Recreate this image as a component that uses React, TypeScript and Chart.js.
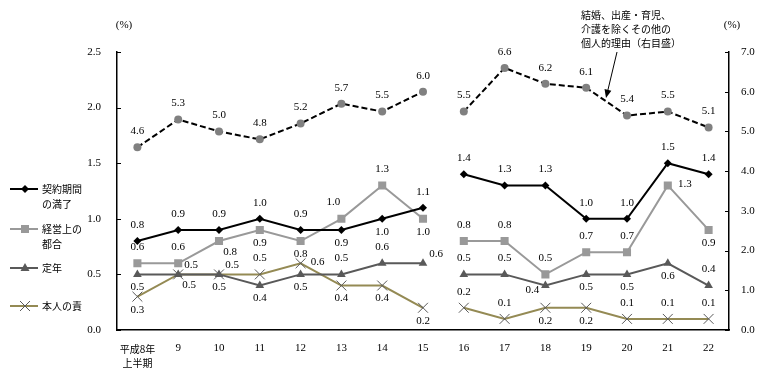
import React, { useEffect, useRef } from 'react';
import { Chart, registerables } from 'chart.js';
Chart.register(...registerables);

const categories: (string | string[])[] = [['平成8年', '上半期'], '9', '10', '11', '12', '13', '14', '15', '16', '17', '18', '19', '20', '21', '22'];
const contractEnd = [0.8, 0.9, 0.9, 1.0, 0.9, 0.9, 1.0, 1.1, 1.4, 1.3, 1.3, 1.0, 1.0, 1.5, 1.4];
const businessReasons = [0.6, 0.6, 0.8, 0.9, 0.8, 1.0, 1.3, 1.0, 0.8, 0.8, 0.5, 0.7, 0.7, 1.3, 0.9];
const retirement = [0.5, 0.5, 0.5, 0.4, 0.5, 0.5, 0.6, 0.6, 0.5, 0.5, 0.4, 0.5, 0.5, 0.6, 0.4];
const personalFault = [0.3, 0.5, 0.5, 0.5, 0.6, 0.4, 0.4, 0.2, 0.2, 0.1, 0.2, 0.2, 0.1, 0.1, 0.1];
const otherPersonal = [4.6, 5.3, 5.0, 4.8, 5.2, 5.7, 5.5, 6.0, 5.5, 6.6, 6.2, 6.1, 5.4, 5.5, 5.1];

const leftTicks = [0, 0.5, 1.0, 1.5, 2.0, 2.5];
const rightTicks = [0, 1, 2, 3, 4, 5, 6, 7];

// label placement codes (t=top, b=bottom, r=right, ...)
const posContract = ['t', 't', 't', 't', 't', 'b', 'b', 't', 't', 't', 't', 't', 't', 't', 't'];
const posBusiness = ['t', 't', 'br', 'b', 'b', 'tl', 't', 'b', 't', 't', 't', 't', 't', 'r', 'b'];
const posRetire = ['b', 'tr', 'tr', 'b', 'b', 't', 't', 'tr', 't', 't', 'bl', 'b', 'b', 'b', 't'];
const posFault = ['b', 'br', 'b', 't', 'r', 'b', 'b', 'b', 't', 't', 'b', 'b', 't', 't', 't'];
const posOther = ['t', 't', 't', 't', 't', 't', 't', 't', 't', 't', 't', 't', 't', 't', 't'];

const SERIF = "'Liberation Serif', 'Times New Roman', serif";
const JP = "'Noto Sans CJK JP', 'Noto Sans', sans-serif";

const OFFSETS: Record<string, [number, number]> = {
  t: [0, -16], b: [0, 13], r: [17, -1], tr: [13, -9], br: [11, 11], tl: [-8, -17], bl: [-13, 5],
};

const BREAK_AFTER = 7;
const gapSeg = { borderColor: (c: any) => (c.p0DataIndex === BREAK_AFTER ? 'rgba(0,0,0,0)' : undefined) };

function marker(ctx: CanvasRenderingContext2D, kind: string, x: number, y: number) {
  ctx.save();
  if (kind === 'diamond') {
    ctx.fillStyle = '#000';
    ctx.beginPath(); ctx.moveTo(x, y - 4); ctx.lineTo(x + 4, y); ctx.lineTo(x, y + 4); ctx.lineTo(x - 4, y); ctx.closePath(); ctx.fill();
  } else if (kind === 'square') {
    ctx.fillStyle = '#999999'; ctx.fillRect(x - 4, y - 4, 8, 8);
  } else if (kind === 'triangle') {
    ctx.fillStyle = '#595959';
    ctx.beginPath(); ctx.moveTo(x, y - 5); ctx.lineTo(x + 4.5, y + 3); ctx.lineTo(x - 4.5, y + 3); ctx.closePath(); ctx.fill();
  } else if (kind === 'cross') {
    ctx.strokeStyle = '#595959'; ctx.lineWidth = 1;
    ctx.beginPath(); ctx.moveTo(x - 5, y - 5); ctx.lineTo(x + 5, y + 5); ctx.moveTo(x + 5, y - 5); ctx.lineTo(x - 5, y + 5); ctx.stroke();
  }
  ctx.restore();
}

const overlay = {
  id: 'overlay',
  afterDatasetsDraw(chart: any) {
    const ctx: CanvasRenderingContext2D = chart.ctx;
    ctx.save();
    // data labels
    ctx.font = `11px ${SERIF}`;
    ctx.fillStyle = '#000';
    ctx.textAlign = 'center';
    ctx.textBaseline = 'middle';
    chart.data.datasets.forEach((ds: any, di: number) => {
      const meta = chart.getDatasetMeta(di);
      meta.data.forEach((pt: any, i: number) => {
        const v = ds.data[i];
        if (v == null) return;
        const [dx, dy] = OFFSETS[ds.labelPos[i]];
        ctx.fillText(v.toFixed(1), pt.x + dx, pt.y + dy);
      });
    });

    // inward ticks
    const { left, right } = chart.chartArea;
    const sy = chart.scales.y, sy1 = chart.scales.y1;
    ctx.strokeStyle = '#000';
    ctx.lineWidth = 1;
    leftTicks.forEach((v) => {
      const py = Math.round(sy.getPixelForValue(v)) + 0.5;
      ctx.beginPath(); ctx.moveTo(left, py); ctx.lineTo(left + 4, py); ctx.stroke();
    });
    rightTicks.forEach((v) => {
      const py = Math.round(sy1.getPixelForValue(v)) + 0.5;
      ctx.beginPath(); ctx.moveTo(right, py); ctx.lineTo(right - 4, py); ctx.stroke();
    });

    // unit labels
    ctx.font = `11px ${SERIF}`;
    ctx.textAlign = 'center';
    ctx.fillText('(%)', 124, 25);
    ctx.fillText('(%)', 732, 25);

    // annotation
    ctx.font = `10px ${JP}`;
    ctx.textAlign = 'left';
    ctx.fillText('結婚、出産・育児、', 581, 15);
    ctx.fillText('介護を除くその他の', 581, 29);
    ctx.fillText('個人的理由（右目盛）', 581, 43);
    // arrow
    const x0 = 617, y0 = 52, x1 = 606, y1 = 98;
    const ang = Math.atan2(y1 - y0, x1 - x0);
    ctx.beginPath(); ctx.moveTo(x0, y0); ctx.lineTo(x1 - Math.cos(ang) * 6, y1 - Math.sin(ang) * 6); ctx.stroke();
    ctx.fillStyle = '#000';
    ctx.beginPath();
    ctx.moveTo(x1, y1);
    ctx.lineTo(x1 - Math.cos(ang - 0.4) * 9, y1 - Math.sin(ang - 0.4) * 9);
    ctx.lineTo(x1 - Math.cos(ang + 0.4) * 9, y1 - Math.sin(ang + 0.4) * 9);
    ctx.closePath(); ctx.fill();

    // legend
    const items = [
      { lines: ['契約期間', 'の満了'], y: 189, color: '#000000', m: 'diamond' },
      { lines: ['経営上の', '都合'], y: 229, color: '#999999', m: 'square' },
      { lines: ['定年'], y: 268, color: '#595959', m: 'triangle' },
      { lines: ['本人の責'], y: 306, color: '#948A54', m: 'cross' },
    ];
    items.forEach((it) => {
      ctx.strokeStyle = it.color;
      ctx.lineWidth = 2;
      ctx.beginPath(); ctx.moveTo(10, it.y); ctx.lineTo(38, it.y); ctx.stroke();
      marker(ctx, it.m, 25, it.y);
      ctx.fillStyle = '#000';
      ctx.font = `10px ${JP}`;
      ctx.textAlign = 'left';
      it.lines.forEach((l, k) => ctx.fillText(l, 42, it.y + k * 15));
    });
    ctx.restore();
  },
};

export default function App() {
  const ref = useRef<HTMLCanvasElement | null>(null);
  useEffect(() => {
    if (!ref.current) return;
    const chart = new Chart(ref.current, {
      type: 'line',
      data: {
        labels: categories as any,
        datasets: [
          {
            label: '契約期間の満了', data: contractEnd, yAxisID: 'y', borderColor: '#000000', backgroundColor: '#000000',
            borderWidth: 2, pointStyle: 'rectRot', pointRadius: 4, pointBorderWidth: 0, segment: gapSeg, labelPos: posContract,
          } as any,
          {
            label: '経営上の都合', data: businessReasons, yAxisID: 'y', borderColor: '#999999', backgroundColor: '#999999',
            borderWidth: 2, pointStyle: 'rect', pointRadius: 5.7, pointBorderWidth: 0, segment: gapSeg, labelPos: posBusiness,
          } as any,
          {
            label: '定年', data: retirement, yAxisID: 'y', borderColor: '#595959', backgroundColor: '#595959',
            borderWidth: 2, pointStyle: 'triangle', pointRadius: 5, pointBorderWidth: 0, segment: gapSeg, labelPos: posRetire,
          } as any,
          {
            label: '本人の責', data: personalFault, yAxisID: 'y', borderColor: '#948A54', backgroundColor: '#595959',
            pointBorderColor: '#595959', borderWidth: 2, pointStyle: 'crossRot', pointRadius: 7, pointBorderWidth: 1,
            segment: gapSeg, labelPos: posFault,
          } as any,
          {
            label: '結婚、出産・育児、介護を除くその他の個人的理由（右目盛）', data: otherPersonal, yAxisID: 'y1',
            borderColor: '#000000', backgroundColor: '#808080', pointBorderWidth: 0, borderWidth: 2, borderDash: [6, 3],
            pointStyle: 'circle', pointRadius: 4, segment: gapSeg, labelPos: posOther,
          } as any,
        ],
      },
      options: {
        responsive: false,
        animation: false,
        layout: { padding: { top: 52, left: 0, right: 0, bottom: 0 } },
        plugins: { legend: { display: false }, tooltip: { enabled: false } },
        scales: {
          x: {
            type: 'category', offset: true,
            grid: { display: false, drawTicks: false },
            border: { display: true, color: '#000', width: 1.5 },
            ticks: {
              autoSkip: false, maxRotation: 0, padding: 12, color: '#000',
              font: (c: any) => (c.index === 0 ? { family: JP, size: 10, lineHeight: 1.4 } : { family: SERIF, size: 11, lineHeight: 1.2 }),
            },
            afterFit: (s: any) => { s.height = 46; },
          },
          y: {
            position: 'left', min: 0, max: 2.5,
            grid: { display: false, drawTicks: false },
            border: { display: true, color: '#000', width: 1.5 },
            ticks: { stepSize: 0.5, padding: 16, color: '#000', font: { family: SERIF, size: 11 }, callback: (v: any) => Number(v).toFixed(1) },
            afterFit: (s: any) => { s.width = 117; },
          },
          y1: {
            position: 'right', min: 0, max: 7,
            grid: { display: false, drawTicks: false },
            border: { display: true, color: '#000', width: 1.5 },
            ticks: { stepSize: 1, padding: 12, color: '#000', font: { family: SERIF, size: 11 }, callback: (v: any) => Number(v).toFixed(1) },
            afterFit: (s: any) => { s.width = 35; },
          },
        },
      } as any,
      plugins: [overlay],
    });
    return () => chart.destroy();
  }, []);
  return (
    <div style={{ position: 'fixed', left: 0, top: 0, width: 764, height: 376, background: '#fff' }}>
      <canvas ref={ref} width={764} height={376} style={{ display: 'block' }} />
    </div>
  );
}
